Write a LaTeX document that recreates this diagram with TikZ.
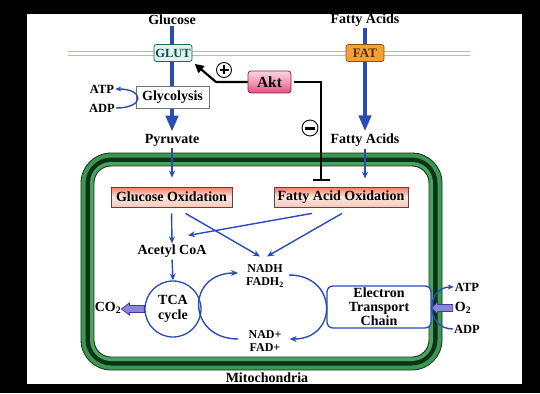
\documentclass[tikz,border=0pt]{standalone}
\usepackage{fontspec}
\setmainfont{Liberation Serif}
\usetikzlibrary{arrows.meta,calc}
\definecolor{thickblue}{HTML}{2B4DB3}
\definecolor{thinblue}{HTML}{2A4CB8}
\definecolor{mgreen}{HTML}{3D9651}
\definecolor{mgreenb}{HTML}{4AA25E}
\definecolor{mdark}{HTML}{0C3317}
\definecolor{memb}{HTML}{AAB4EE}
\definecolor{glutfill}{HTML}{E0F3EF}
\definecolor{glutdraw}{HTML}{1B6A5A}
\definecolor{gluttext}{HTML}{0E4D42}
\definecolor{fatfill}{HTML}{F5A033}
\definecolor{fatdraw}{HTML}{8A5212}
\definecolor{fattext}{HTML}{5A2C05}
\definecolor{oxtop}{HTML}{F27A62}
\definecolor{oxmid}{HTML}{FCE8E0}
\definecolor{oxbot}{HTML}{FAC8B8}
\definecolor{aktop}{HTML}{FCD3DE}
\definecolor{akmid}{HTML}{F49AB6}
\definecolor{akbot}{HTML}{E6497D}
\definecolor{akdraw}{HTML}{8C1F45}
\definecolor{purfill}{HTML}{8A88D6}
\definecolor{purdraw}{HTML}{3B3C9C}
\pgfdeclarelayer{bg}
\pgfdeclarelayer{mid}
\pgfsetlayers{bg,mid,main}
\begin{document}
\begin{tikzpicture}[x=1pt,y=-1pt,
  lbl/.style={font=\fontsize{14}{15}\selectfont\bfseries, inner sep=1pt, align=center},
  sml/.style={font=\fontsize{12}{13}\selectfont\bfseries, inner sep=1pt, align=center},
  thickarr/.style={draw=thickblue, line width=4pt, -{Triangle[width=12pt,length=16pt]}},
  thinarr/.style={draw=thinblue, line width=1.4pt, -{Stealth[length=7pt,width=6pt]}},
  blk/.style={draw=black, line width=2.2pt},
  glutbox/.style={lbl, font=\fontsize{12.5}{14}\selectfont\bfseries, text=gluttext, fill=glutfill, draw=glutdraw, line width=0.8pt, rounded corners=2.5pt, minimum width=38pt, minimum height=17pt, inner sep=0pt},
  fatbox/.style={lbl, font=\fontsize{13}{14}\selectfont\bfseries, text=fattext, fill=fatfill, draw=fatdraw, line width=0.8pt, rounded corners=2.5pt, minimum width=38pt, minimum height=17pt, inner sep=0pt},
  glybox/.style={lbl, fill=white, draw=black!55, line width=0.8pt, minimum width=73pt, minimum height=22pt, inner sep=0pt},
  oxbox/.style={lbl, top color=oxtop, bottom color=oxbot, middle color=oxmid, draw=black!70, line width=0.8pt, minimum height=20pt, inner sep=0pt},
  aktbox/.style={lbl, font=\fontsize{15.5}{16}\selectfont\bfseries, top color=aktop, bottom color=akbot, middle color=akmid, draw=akdraw, line width=0.8pt, rounded corners=3pt, minimum width=43pt, minimum height=22pt, inner sep=0pt},
  etcbox/.style={lbl, font=\fontsize{14}{14}\selectfont\bfseries, fill=white, draw=thinblue, line width=1.3pt, rounded corners=6pt, minimum width=104pt, minimum height=42pt, inner sep=0pt},
  tcacirc/.style={lbl, circle, fill=white, draw=thinblue, line width=1.3pt, minimum size=56pt, inner sep=0pt},
  signcirc/.style={circle, draw=black, fill=white, line width=0.9pt, inner sep=0pt},
  blockarr/.style={fill=purfill, draw=purdraw, line width=0.8pt, line join=miter}
]
\useasboundingbox (0,0) rectangle (540,393);
\begin{pgfonlayer}{bg}
  \fill[black] (0,0) rectangle (540,393);
  \fill[white] (27,14) rectangle (522,384);
  \draw[memb, line width=0.9pt] (68,51) -- (470,51);
  \draw[memb, line width=0.9pt] (68,55.5) -- (470,55.5);
  % mitochondrion membranes
  \draw[fill=mgreen, draw=mdark, line width=0.8pt, rounded corners=30pt] (81,153) rectangle (442,370);
  \fill[mdark, rounded corners=26pt] (85.5,157.5) rectangle (437.5,365.5);
  \fill[mgreenb, rounded corners=21pt] (90,162) rectangle (433,361);
  \draw[fill=white, draw=mdark, line width=0.9pt, rounded corners=17pt] (94,166) rectangle (429,357);
\end{pgfonlayer}

% nodes
\node[lbl] (glc) at (172,20) {Glucose};
\node[lbl] (fa1) at (365,20) {Fatty Acids};
\node[glutbox] (glut) at (173,53) {GLUT};
\node[fatbox] (fat) at (365,53) {FAT};
\node[glybox] (gly) at (172.5,97) {Glycolysis};
\node[sml, font=\fontsize{12.5}{13}\selectfont\bfseries] (atp1) at (102,89) {ATP};
\node[sml, font=\fontsize{12.5}{13}\selectfont\bfseries] (adp1) at (102,108) {ADP};
\node[aktbox] (akt) at (269.5,82) {Akt};
\node[signcirc, minimum size=15pt] (plus) at (224,70) {};
\node[signcirc, minimum size=16pt] (minus) at (310,128) {};
\node[lbl] (pyr) at (172,140) {Pyruvate};
\node[lbl] (fa2) at (365,140) {Fatty Acids};
\node[oxbox, minimum width=121pt] (gox) at (171.5,197) {Glucose Oxidation};
\node[oxbox, minimum width=134pt] (fox) at (341,197) {Fatty Acid Oxidation};
\node[lbl] (acoa) at (172,251) {Acetyl CoA};
\node[tcacirc] (tca) at (173,309) {TCA\\cycle};
\node[lbl] (co2) at (108,308) {CO$_\mathbf{2}$};
\node[sml] (nadh) at (265,276) {NADH\\FADH$_\mathbf{2}$};
\node[sml] (nad) at (265,341) {NAD+\\FAD+};
\node[etcbox] (etc) at (379,307) {Electron\\Transport\\Chain};
\node[sml, font=\fontsize{12.5}{13}\selectfont\bfseries] (atp2) at (467,287) {ATP};
\node[lbl] (o2) at (463,308) {O$_\mathbf{2}$};
\node[sml, font=\fontsize{12.5}{13}\selectfont\bfseries] (adp2) at (467,329) {ADP};
\node[lbl] (mito) at (267,378) {Mitochondria};
\coordinate (bend1) at (216,82);
\coordinate (inh) at (321,181);

% thick transport arrows (behind boxes)
\begin{pgfonlayer}{mid}
  \draw[thickarr, shorten >=1pt] (glc.south) -- (pyr.north);
  \draw[thickarr, shorten >=1pt] (fa1.south) -- (fa2.north);
\end{pgfonlayer}

% plus / minus signs
\draw[line width=1.2pt] ($(plus.center)+(-4.5,0)$) -- ($(plus.center)+(4.5,0)$);
\draw[line width=1.2pt] ($(plus.center)+(0,-4.5)$) -- ($(plus.center)+(0,4.5)$);
\draw[line width=3pt] ($(minus.center)+(-5,0)$) -- ($(minus.center)+(5,0)$);

% Akt regulation
\draw[blk, -{Triangle[length=9pt,width=9pt]}, shorten >=3pt] (akt.west) -- (bend1) -- (glut.south east);
\draw[blk, -{Bar[width=17pt]}, shorten <=3pt] (akt.east) -| (inh);

% glycolysis ATP/ADP
\draw[thinarr, -{Stealth[length=6pt,width=5pt]}] (adp1.east) .. controls +(29,0) and +(29,0) .. (atp1.east);

% thin arrows
\draw[thinarr, shorten <=1pt, shorten >=9pt] (pyr.south) -- (pyr.south |- gox.north);
\draw[thinarr, shorten <=1pt, shorten >=8pt] (fa2.south) -- (fa2.south |- fox.north);
\draw[thinarr, shorten <=6pt] (gox.south) -- (acoa.north);
\draw[thinarr] ($(gox.south)+(14,6)$) -- ($(nadh.north)+(-5,-7)$);
\draw[thinarr] ($(fox.south)+(-29,6)$) -- ($(acoa.north)+(16,-8)$);
\draw[thinarr] ($(fox.south)+(1,6)$) -- ($(nadh.north)+(2,-7)$);
\draw[thinarr, shorten <=1pt] (acoa.south) -- (tca.north);

% NADH cycle arcs
\draw[thinarr] ($(nad.west)+(-9,-2)$) .. controls +(-52,0) and +(-52,0) .. ($(nadh.west)+(-7,-3)$);
\draw[thinarr] ($(nadh.east)+(4,-1)$) .. controls +(49,0) and +(49,0) .. ($(nad.east)+(7,-2)$);

% ETC ATP/ADP
\draw[thinarr, -{Stealth[length=6pt,width=5pt]}] (adp2.west) .. controls +(-28,0) and +(-28,0) .. (atp2.west);

% block arrows
\draw[blockarr] (tca.west) ++(0,-3.5) -- ++(-15,0) -- ++(0,-2.5) -- ++(-8,6) -- ++(8,6) -- ++(0,-2.5) -- ++(15,0) -- cycle;
\draw[blockarr] (o2.west) ++(-1,-3.5) -- ++(-15,0) -- ++(0,-2.5) -- ++(-6,6) -- ++(6,6) -- ++(0,-2.5) -- ++(15,0) -- cycle;
\end{tikzpicture}
\end{document}
